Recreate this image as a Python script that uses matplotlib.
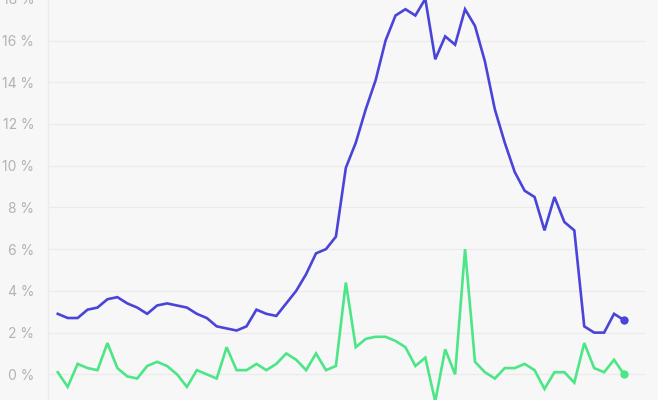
import numpy as np
import matplotlib
matplotlib.use("Agg")
import matplotlib.pyplot as plt
from matplotlib.ticker import FuncFormatter

# weekly values, in percent
blue_vals = [2.9, 2.7, 2.7, 3.1, 3.2, 3.6, 3.7, 3.4, 3.2, 2.9,
             3.3, 3.4, 3.3, 3.2, 2.9, 2.7, 2.3, 2.2, 2.1, 2.3,
             3.1, 2.9, 2.8, 3.4, 4.0, 4.8, 5.8, 6.0, 6.6, 9.9,
             11.1, 12.7, 14.1, 16.0, 17.2, 17.5, 17.2, 18.0, 15.1, 16.2,
             15.8, 17.5, 16.7, 15.0, 12.7, 11.1, 9.7, 8.8, 8.5, 6.9,
             8.5, 7.3, 6.9, 2.3, 2.0, 2.0, 2.9, 2.6]
green_vals = [0.1, -0.6, 0.5, 0.3, 0.2, 1.5, 0.3, -0.1, -0.2, 0.4,
              0.6, 0.4, 0.0, -0.6, 0.2, 0.0, -0.2, 1.3, 0.2, 0.2,
              0.5, 0.2, 0.5, 1.0, 0.7, 0.2, 1.0, 0.2, 0.4, 4.4,
              1.3, 1.7, 1.8, 1.8, 1.6, 1.3, 0.4, 0.8, -1.3, 1.2,
              0.0, 6.0, 0.6, 0.1, -0.2, 0.3, 0.3, 0.5, 0.2, -0.7,
              0.1, 0.1, -0.4, 1.5, 0.3, 0.1, 0.7, 0.0]
y_ticks = [0, 2, 4, 6, 8, 10, 12, 14, 16, 18]

BG = "#f7f7f7"
BLUE = "#4a44d8"
GREEN = "#4ce686"

plt.rcParams['font.family'] = ['Inter', 'DejaVu Sans']

fig = plt.figure(figsize=(6.58, 4.0), dpi=100, facecolor=BG)
ax = fig.add_axes([0.073, 0.0, 0.907, 1.003])
ax.set_facecolor(BG)

x = np.arange(len(blue_vals))
ax.plot(x, blue_vals, color=BLUE, lw=1.9, solid_joinstyle='miter', zorder=3)
ax.plot(x, green_vals, color=GREEN, lw=1.9, solid_joinstyle='miter', zorder=3)
ax.plot(x[-1], blue_vals[-1], 'o', color=BLUE, ms=5, zorder=4)
ax.plot(x[-1], green_vals[-1], 'o', color=GREEN, ms=5, zorder=4)

ax.set_xlim(-0.98, 59.1)
ax.set_ylim(-1.23, 18.0)
ax.set_yticks(y_ticks)
ax.yaxis.set_major_formatter(FuncFormatter(lambda v, p: f"{int(v)} %"))
ax.set_xticks([])
ax.tick_params(axis='y', length=0, pad=10, labelsize=10, labelcolor="#b3b3b3")
ax.grid(axis='y', color="#ebebeb", lw=0.9)
ax.set_axisbelow(True)

for s in ['top', 'right', 'bottom']:
    ax.spines[s].set_visible(False)
ax.spines['left'].set_color("#ececec")
ax.spines['left'].set_linewidth(1.0)

plt.savefig("out.png", dpi=100, facecolor=BG)
